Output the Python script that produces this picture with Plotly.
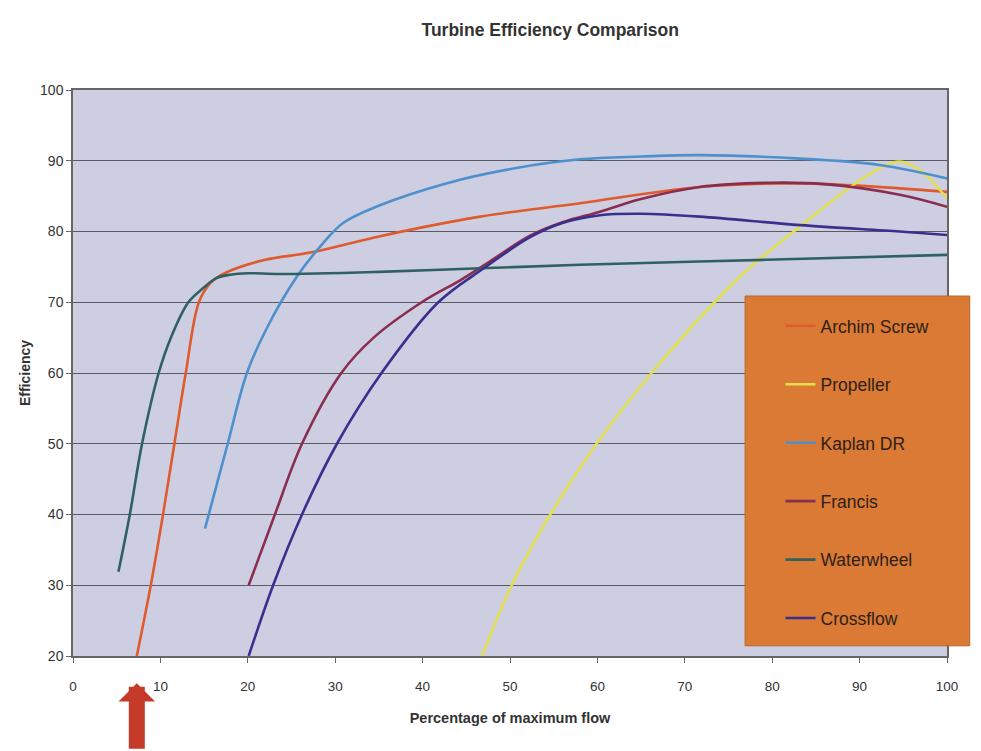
import plotly.graph_objects as go

# ---- data ----
archim_x = [7.3, 8.9, 10.3, 11.6, 12.9, 14.4, 15.7, 16.6, 18.7, 22, 27.5, 35, 46.6, 58, 71.7, 83, 94.6, 100]
archim_y = [20, 30, 40, 50, 60, 70, 72.7, 73.6, 74.8, 76.0, 77.1, 79.3, 82.1, 84.0, 86.3, 86.8, 86.1, 85.6]

propeller_x = [46.8, 50.2, 54.6, 59.9, 66.2, 73.4, 78, 83.2, 88.5, 92.7, 94.6, 96.9, 100]
propeller_y = [20, 30, 40, 50, 60, 70, 75.5, 80.7, 85.9, 89.2, 89.9, 88.7, 84.7]

kaplan_x = [15.1, 16.4, 17.7, 19.9, 22.2, 25.6, 28.3, 30.9, 35.1, 42.7, 50.4, 58, 65, 71.7, 83.2, 92.3, 100]
kaplan_y = [38, 44, 50, 60, 66.4, 73.6, 77.9, 81.2, 83.7, 86.8, 88.9, 90.2, 90.6, 90.8, 90.3, 89.4, 87.5]

francis_x = [20.1, 23.1, 26.2, 30.7, 34.4, 39.9, 44.3, 47, 52.3, 56, 60.3, 65, 71.7, 80, 86, 94.6, 100]
francis_y = [30, 40, 50, 60, 65.0, 70, 73.1, 75.2, 79.4, 81.3, 82.8, 84.6, 86.3, 86.9, 86.7, 85.2, 83.5]

waterwheel_x = [5.2, 6.5, 7.9, 9.8, 11.2, 13.2, 14.9, 16.4, 18, 20, 23.7, 35, 46.6, 58, 79.3, 100]
waterwheel_y = [31.9, 40, 50, 60, 65.0, 70, 72.0, 73.4, 73.9, 74.1, 74.0, 74.3, 74.8, 75.3, 76.0, 76.7]

crossflow_x = [20.1, 22.9, 26.2, 30.2, 35.3, 41.8, 47, 52.3, 56, 60.3, 65, 71.7, 83.2, 94.6, 100]
crossflow_y = [20, 30, 40, 50, 60, 70, 74.8, 79.2, 81.2, 82.3, 82.5, 82.1, 80.9, 80.0, 79.5]

series_names = ["Archim Screw", "Propeller", "Kaplan DR", "Francis", "Waterwheel", "Crossflow"]
series_x = [archim_x, propeller_x, kaplan_x, francis_x, waterwheel_x, crossflow_x]
series_y = [archim_y, propeller_y, kaplan_y, francis_y, waterwheel_y, crossflow_y]
series_colors = ["#DF5A2C", "#E2DF4C", "#4E90CC", "#8A2E50", "#2F6160", "#3B2F8E"]

x_ticks = [0, 10, 20, 30, 40, 50, 60, 70, 80, 90, 100]
y_ticks = [20, 30, 40, 50, 60, 70, 80, 90, 100]

FONT = "Liberation Sans, Arial, sans-serif"

fig = go.Figure()
for i, (name, xs, ys, col) in enumerate(zip(series_names, series_x, series_y, series_colors)):
    fig.add_trace(go.Scatter(
        x=xs, y=ys, name=name, mode="lines",
        line=dict(color=col, width=2.6, shape="spline", smoothing=1.0),
        legendgroup=f"g{i}",
    ))

fig.update_layout(
    width=981, height=751,
    margin=dict(l=73, r=34, t=90, b=95),
    paper_bgcolor="white",
    plot_bgcolor="#CECEE3",
    font=dict(family=FONT, color="#333333"),
    title=dict(text="<b>Turbine Efficiency Comparison</b>", x=0.546, xref="paper",
               xanchor="center", y=0.96, yanchor="middle",
               font=dict(size=17.5, color="#333333")),
    xaxis=dict(range=[0, 100], tickvals=x_ticks, showgrid=False, zeroline=False,
               showline=True, linecolor="#666666", linewidth=1.5, mirror=True,
               ticks="outside", ticklen=5, tickcolor="#666666", ticklabelstandoff=12,
               tickfont=dict(size=13.5, color="#333333"),
               title=dict(text="<b>Percentage of maximum flow</b>", font=dict(size=14.5, color="#333333"), standoff=20)),
    yaxis=dict(range=[20, 100], tickvals=y_ticks, showgrid=True, gridcolor="#5A5A66", gridwidth=1,
               zeroline=False, showline=True, linecolor="#666666", linewidth=1.5, mirror=True,
               ticks="outside", ticklen=5, tickcolor="#666666",
               tickfont=dict(size=14, color="#333333"),
               title=dict(text="<b>Efficiency</b>", font=dict(size=14, color="#333333"), standoff=6)),
    legend=dict(x=0.8095, y=0.615, xanchor="left", yanchor="top",
                bgcolor="rgba(0,0,0,0)", borderwidth=0,
                tracegroupgap=32.7, font=dict(size=17.5, color="#2E1F18")),
    shapes=[dict(type="rect", xref="paper", yref="paper", x0=0.769, x1=1.026, y0=0.018, y1=0.636,
                 fillcolor="#DA7A34", line=dict(color="#B8652A", width=1), layer="above")],
    annotations=[dict(x=archim_x[0], xref="x", y=-0.048, yref="paper", ax=0, ay=67,
                      showarrow=True, arrowhead=1, arrowsize=0.38, arrowwidth=16,
                      arrowcolor="#C63A2A", text="")],
)

fig.write_html("out.html")
